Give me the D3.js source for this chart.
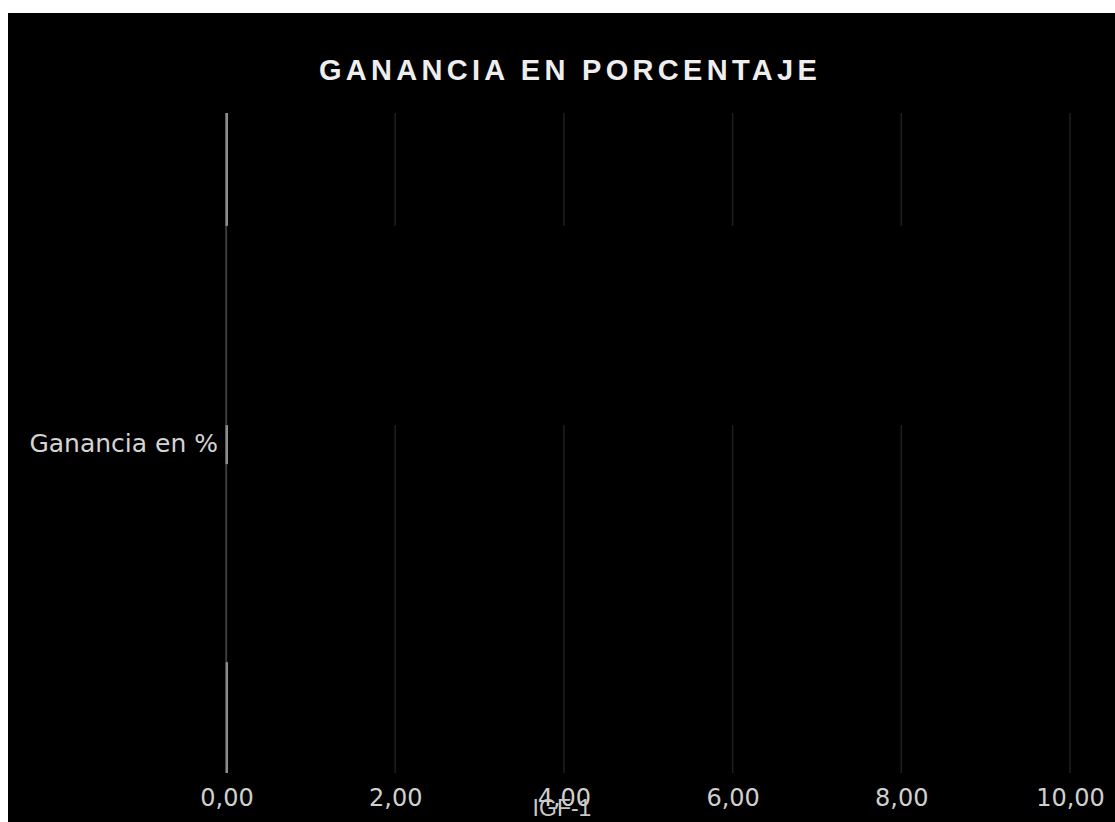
<!DOCTYPE html>
<html>
<head>
<meta charset="utf-8">
<script src="https://cdn.jsdelivr.net/npm/d3@7"></script>
<style>
  body { margin: 0; background: #fff; }
  svg { display: block; }
  .tick text { font-family: "DejaVu Sans", sans-serif; }
</style>
</head>
<body>
<div id="chart"></div>
<script>
// chart values
var title = "GANANCIA EN PORCENTAJE";
var category = "Ganancia en %";
var xLabel = "IGF-1";
var xTicks = [0, 2, 4, 6, 8, 10];
// segments along the band (0-100 of the band), value in % gain
var segStart = [0, 17.1, 47.3, 83.2];
var segEnd = [17.1, 47.3, 53.2, 100];
var segValue = [0.03, 9.97, 0.03, 0.03];
var segKind = ["bar", "mask", "bar", "bar"];

var width = 1115, height = 822;
var frame = {left: 8, top: 13};
var margin = {top: 113, right: 45, bottom: 49, left: 226.5};

var svg = d3.select("#chart").append("svg")
    .attr("width", width)
    .attr("height", height);

svg.append("rect")
    .attr("x", frame.left)
    .attr("y", frame.top)
    .attr("width", width - frame.left)
    .attr("height", height - frame.top)
    .attr("fill", "#000");

var x = d3.scaleLinear().domain([0, 10]).range([margin.left, 1070]);
var y = d3.scaleBand().domain([category]).range([margin.top, height - margin.bottom]);
var inner = d3.scaleLinear().domain([0, 100]).range([y(category), y(category) + y.bandwidth()]);

var fmt = d3.formatLocale({decimal: ",", thousands: ".", grouping: [3], currency: ["", "€"]}).format(".2f");

// grid lines
svg.append("g")
    .selectAll("line")
    .data(xTicks)
    .enter()
    .append("line")
    .attr("x1", d => x(d))
    .attr("x2", d => x(d))
    .attr("y1", y.range()[0])
    .attr("y2", y.range()[1])
    .attr("stroke", "#1f1f1f")
    .attr("stroke-width", 1.5);

var segs = segStart.map((s, i) => ({start: s, end: segEnd[i], value: segValue[i], kind: segKind[i]}));

// black masks sit on the grid
svg.append("g")
    .selectAll("rect")
    .data(segs.filter(d => d.kind == "mask"))
    .enter()
    .append("rect")
    .attr("x", x(0) + 1.5)
    .attr("y", d => inner(d.start))
    .attr("width", d => x(d.value) - x(0))
    .attr("height", d => inner(d.end) - inner(d.start))
    .attr("fill", "#000");

// axis line at zero
svg.append("line")
    .attr("x1", x(0) - 0.5)
    .attr("x2", x(0) - 0.5)
    .attr("y1", inner(0))
    .attr("y2", inner(segStart[3]))
    .attr("stroke", "#5a5a5a")
    .attr("stroke-width", 1);

svg.append("g")
    .selectAll("rect")
    .data(segs.filter(d => d.kind == "bar"))
    .enter()
    .append("rect")
    .attr("x", x(0) - 1)
    .attr("y", d => inner(d.start))
    .attr("width", d => x(d.value) - x(0))
    .attr("height", d => inner(d.end) - inner(d.start))
    .attr("fill", "#8c8c8c");

// x axis
var xAxis = d3.axisBottom(x).tickValues(xTicks).tickFormat(fmt).tickSize(0).tickPadding(16);
var gx = svg.append("g")
    .attr("transform", "translate(0," + (height - margin.bottom) + ")")
    .call(xAxis);
gx.select(".domain").remove();
gx.selectAll("text")
    .attr("fill", "#cfcfcf")
    .style("font-size", "24px");

// labels
svg.append("text")
    .attr("x", 218)
    .attr("y", y(category) + y.bandwidth() / 2 + 9)
    .attr("text-anchor", "end")
    .attr("fill", "#d4d4d4")
    .style("font-family", "DejaVu Sans, sans-serif")
    .style("font-size", "25px")
    .text(category);

svg.append("text")
    .attr("x", 562)
    .attr("y", 816)
    .attr("text-anchor", "middle")
    .attr("fill", "#c8c8c8")
    .style("font-family", "Liberation Sans, Arial, sans-serif")
    .style("font-size", "23px")
    .text(xLabel);

svg.append("text")
    .attr("x", 570)
    .attr("y", 80)
    .attr("text-anchor", "middle")
    .attr("fill", "#eeeeee")
    .style("font-family", "Liberation Sans, Arial, sans-serif")
    .style("font-weight", "bold")
    .style("font-size", "29px")
    .style("letter-spacing", "4.3px")
    .text(title);
</script>
</body>
</html>
